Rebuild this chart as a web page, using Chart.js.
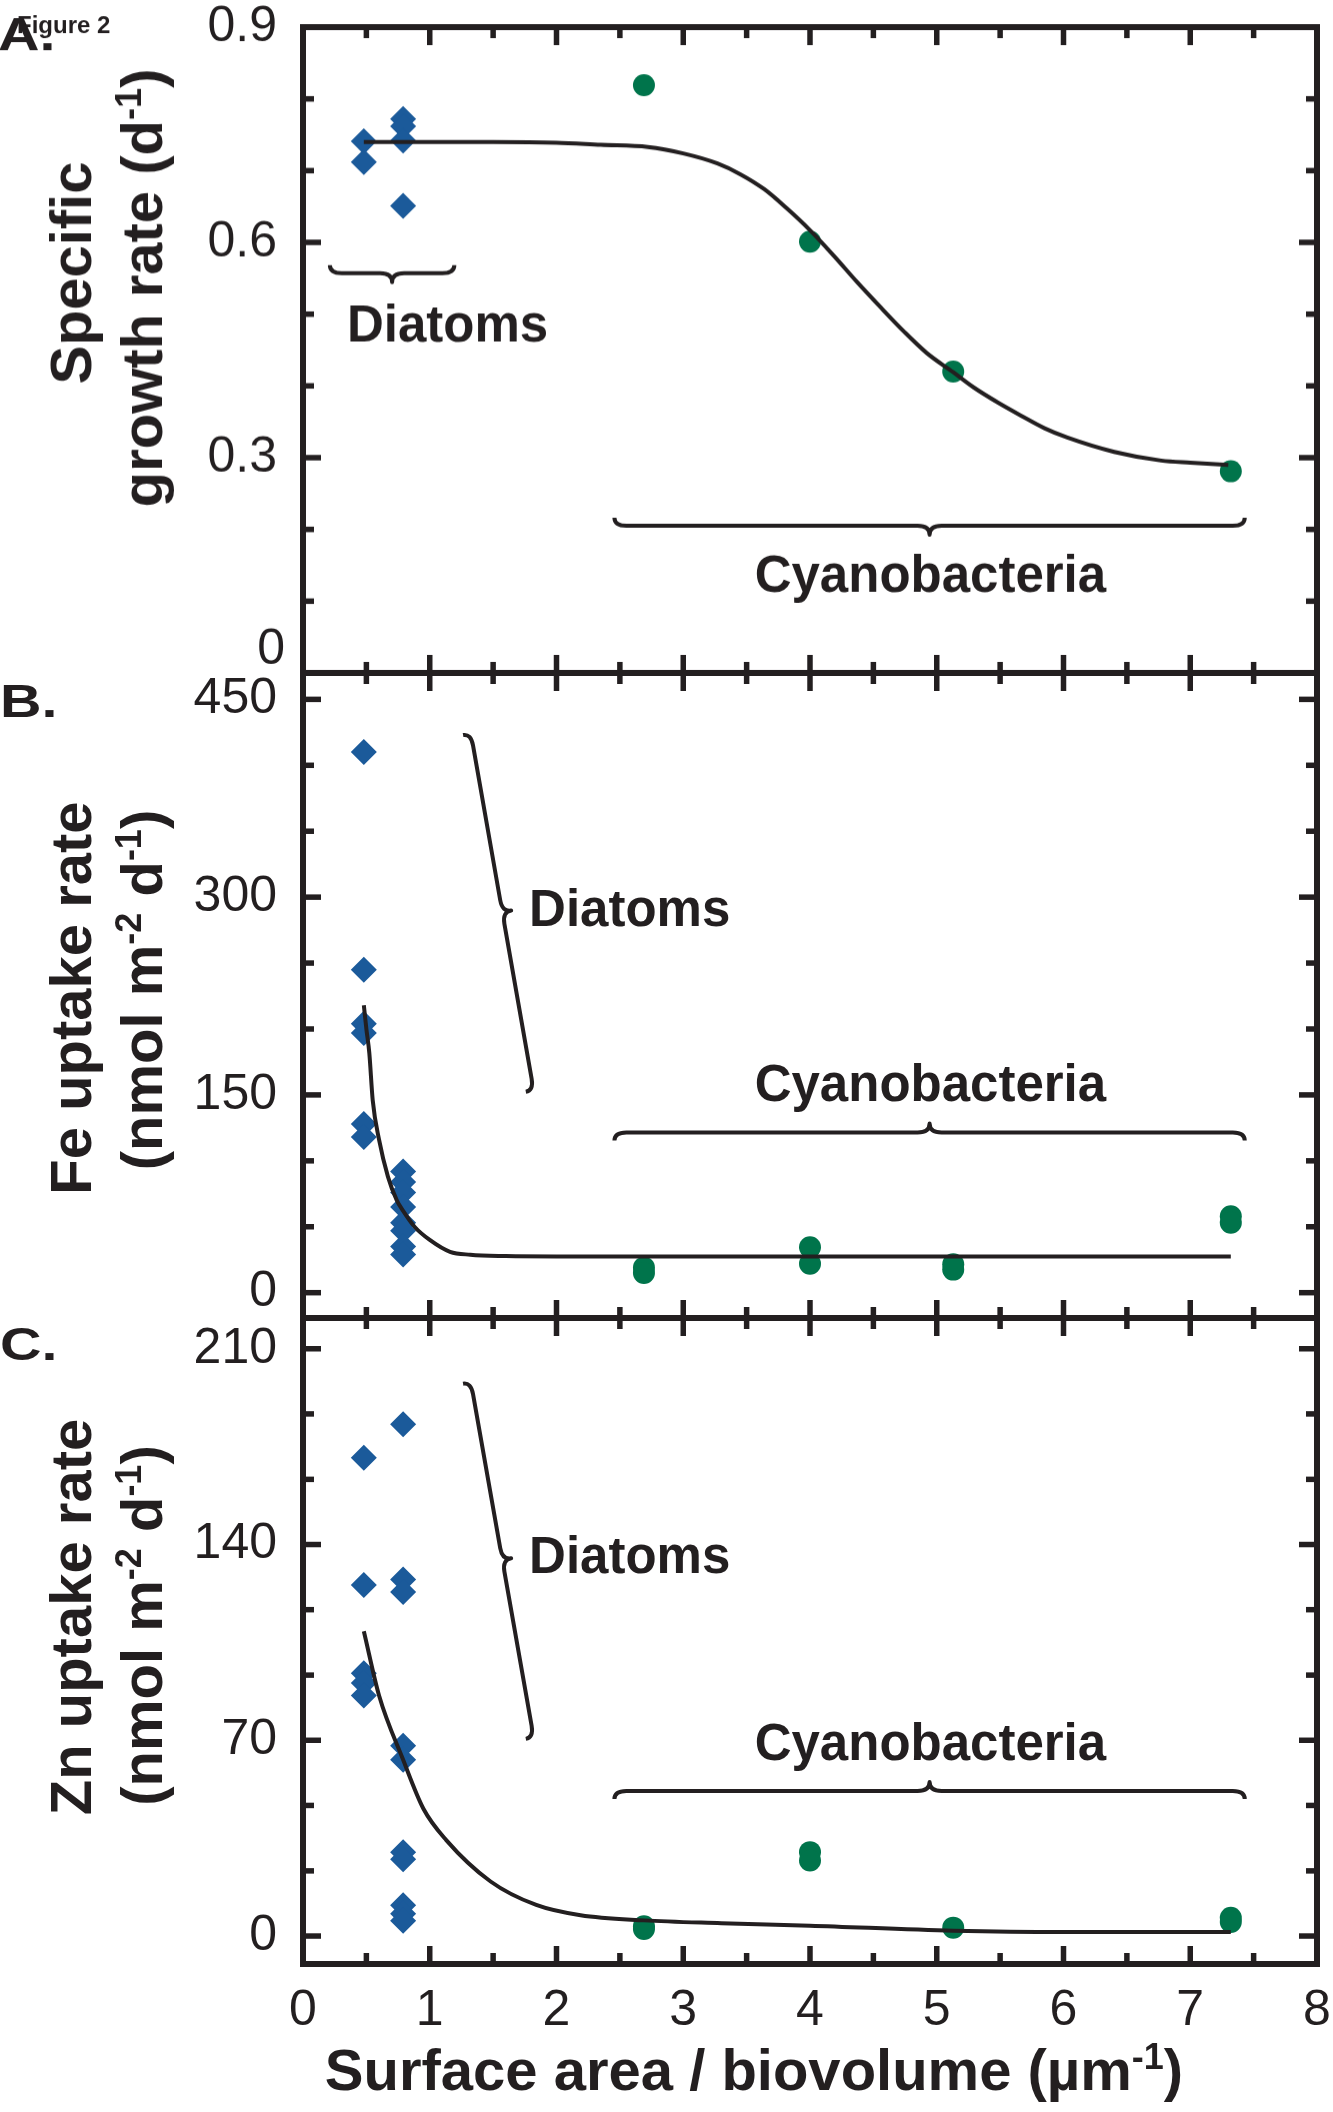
<!DOCTYPE html>
<html>
<head>
<meta charset="utf-8">
<script src="https://cdn.jsdelivr.net/npm/chart.js@4.4.1/dist/chart.umd.min.js"></script>
<style>
html,body{margin:0;padding:0;background:#fff;}
#wrap{position:relative;width:1333px;height:2112px;overflow:hidden;background:#fff;}
canvas{position:absolute;left:0;}
</style>
</head>
<body>
<div id="wrap">
  <canvas id="chartGrowth"></canvas>
  <canvas id="chartFe"></canvas>
  <canvas id="chartZn"></canvas>
</div>
<script>
// shared x axis (surface area / biovolume, um-1)
const xTicks=[0,1,2,3,4,5,6,7,8];
const xMinor=[0.5,1.5,2.5,3.5,4.5,5.5,6.5,7.5];

// A. specific growth rate (d-1)
const growthTicks=[0,0.3,0.6,0.9];
const growthMinor=[0.1,0.2,0.4,0.5,0.7,0.8];
const growthDiatomX=[0.48,0.48,0.79,0.79,0.79,0.79];
const growthDiatomY=[0.741,0.712,0.772,0.762,0.742,0.651];
const growthCyanoX=[2.69,4.0,5.13,7.32];
const growthCyanoY=[0.819,0.601,0.420,0.281];
const growthFitX=[0.48,1.0,1.5,2.0,2.35,2.72,3.0,3.27,3.45,3.64,3.82,4.0,4.19,4.37,4.56,4.74,4.92,5.13,5.29,5.48,5.66,5.85,6.03,6.4,6.77,7.0,7.3];
const growthFitY=[0.740,0.740,0.740,0.739,0.736,0.733,0.724,0.710,0.695,0.674,0.647,0.617,0.581,0.545,0.509,0.476,0.446,0.419,0.398,0.377,0.359,0.341,0.328,0.308,0.296,0.293,0.290];

// B. Fe uptake rate (nmol m-2 d-1)
const feTicks=[0,150,300,450];
const feMinor=[50,100,200,250,350,400];
const feDiatomX=[0.48,0.48,0.48,0.48,0.48,0.48,0.79,0.79,0.79,0.79,0.79,0.79,0.79,0.79];
const feDiatomY=[410,245,204,197,128,118,92,84,76,65,53,47,35,29];
const feCyanoX=[2.69,2.69,4.0,4.0,5.13,5.13,7.32,7.32];
const feCyanoY=[19,15,34.5,22,21.5,17.5,58,53];
const feFitX=[0.48,0.50,0.523,0.55,0.60,0.67,0.74,0.79,0.88,1.0,1.16,1.32,1.6,2.0,3.0,4.0,5.0,6.0,7.32];
const feFitY=[218,200,182,146,116,88,70,62,50,40,31,28.8,27.8,27.5,27.5,27.5,27.5,27.5,27.5];

// C. Zn uptake rate (nmol m-2 d-1)
const znTicks=[0,70,140,210];
const znMinor=[23.3,46.7,93.3,116.7,163.3,186.7];
const znDiatomX=[0.48,0.48,0.48,0.48,0.48,0.79,0.79,0.79,0.79,0.79,0.79,0.79,0.79,0.79,0.79];
const znDiatomY=[171,125.5,94,90.5,86,183,127.5,123,68,63,30,27.5,11,8,5.5];
const znCyanoX=[2.69,2.69,4.0,4.0,5.13,7.32,7.32];
const znCyanoY=[3.5,2.5,30,27,3,6.5,5];
const znFitX=[0.48,0.6,0.79,0.95,1.13,1.48,1.84,2.19,2.69,3.3,4.0,5.13,6.0,7.32];
const znFitY=[109,86,63,45.5,34.3,19.5,11.1,7.4,5.6,4.6,3.7,1.9,1.4,1.4];

const INK='#231f20', BLUE='#1b5a9a', GREEN='#00744b';
const FONT="'Liberation Sans', Arial, Helvetica, sans-serif";
const W=1333, LEFT=303, RIGHT=1317, PAD=80, XAXIS_H=90;

const pts=(xs,ys)=>xs.map((x,i)=>({x,y:ys[i]}));

function richWidth(ctx,parts,size){
  let w=0;
  parts.forEach(p=>{ctx.font=`bold ${p.sup?Math.round(size*0.62):size}px ${FONT}`;w+=ctx.measureText(p.t).width;});
  return w;
}
function drawRich(ctx,parts,size,x,y){
  parts.forEach(p=>{
    ctx.font=`bold ${p.sup?Math.round(size*0.62):size}px ${FONT}`;
    ctx.fillText(p.t,x,p.sup?y-size*0.36:y);
    x+=ctx.measureText(p.t).width;
  });
}

function drawBrace(ctx,a,b,side,e,t,r){
  const dx=b.x-a.x, dy=b.y-a.y, L=Math.hypot(dx,dy);
  const ux=dx/L, uy=dy/L, nx=side*uy, ny=-side*ux;
  const mx=(a.x+b.x)/2, my=(a.y+b.y)/2;
  const P=(bx,by,s,n)=>[bx+ux*s+nx*n, by+uy*s+ny*n];
  ctx.beginPath();
  ctx.moveTo(...P(a.x,a.y,0,-e));
  ctx.quadraticCurveTo(a.x,a.y,...P(a.x,a.y,r,0));
  ctx.lineTo(...P(mx,my,-r,0));
  ctx.quadraticCurveTo(mx,my,...P(mx,my,0,t));
  ctx.quadraticCurveTo(mx,my,...P(mx,my,r,0));
  ctx.lineTo(...P(b.x,b.y,-r,0));
  ctx.quadraticCurveTo(b.x,b.y,...P(b.x,b.y,0,-e));
  ctx.stroke();
}

// keep the plot box where the layout puts it: no label overflow padding
function noOverflow(s){s.paddingLeft=0;s.paddingRight=0;s.paddingTop=0;s.paddingBottom=0;}

function makePanel(id,cfg){
  const top=cfg.top-PAD;
  const h=cfg.last?2112-top:(cfg.bottom-cfg.top)+2*PAD;
  const cv=document.getElementById(id);
  cv.width=W;cv.height=h;
  cv.style.top=top+'px';cv.style.width=W+'px';cv.style.height=h+'px';
  const padBottom=cfg.last?h-PAD-(cfg.bottom-cfg.top)-XAXIS_H:PAD;

  const deco={
    id:'deco_'+id,
    afterDraw(chart){
      const {ctx,chartArea:a,scales:{x,y}}=chart;
      ctx.save();
      ctx.strokeStyle=INK;ctx.fillStyle=INK;ctx.lineCap='butt';
      const seg=(x1,y1,x2,y2)=>{ctx.beginPath();ctx.moveTo(x1,y1);ctx.lineTo(x2,y2);ctx.stroke();};
      ctx.lineWidth=5.5;
      xTicks.forEach(v=>{const p=x.getPixelForValue(v);seg(p,a.top,p,a.top+18);seg(p,a.bottom,p,a.bottom-18);});
      xMinor.forEach(v=>{const p=x.getPixelForValue(v);seg(p,a.top,p,a.top+11);seg(p,a.bottom,p,a.bottom-11);});
      cfg.yTicks.forEach(v=>{const p=y.getPixelForValue(v);seg(a.left,p,a.left+18,p);seg(a.right,p,a.right-18,p);});
      cfg.yMinor.forEach(v=>{const p=y.getPixelForValue(v);seg(a.left,p,a.left+11,p);seg(a.right,p,a.right-11,p);});
      ctx.lineWidth=6;
      ctx.strokeRect(a.left,a.top,a.right-a.left,a.bottom-a.top);

      // braces
      ctx.lineWidth=4;ctx.lineJoin='round';
      cfg.braces.forEach(b=>{
        drawBrace(ctx,{x:x.getPixelForValue(b.x1),y:y.getPixelForValue(b.y1)},
                      {x:x.getPixelForValue(b.x2),y:y.getPixelForValue(b.y2)},b.side,8,9,12);
      });
      // group labels
      ctx.font=`bold 51px ${FONT}`;ctx.textBaseline='middle';
      cfg.notes.forEach(n=>{
        ctx.textAlign=n.align;
        ctx.fillText(n.text,x.getPixelForValue(n.x),y.getPixelForValue(n.y));
      });

      // page-coordinate texts
      ctx.translate(0,-top);
      ctx.textAlign='left';ctx.textBaseline='alphabetic';
      cfg.titles.forEach(l=>{
        const w=richWidth(ctx,l.parts,58);
        ctx.save();ctx.translate(l.x,l.cy);ctx.rotate(-Math.PI/2);
        drawRich(ctx,l.parts,58,-w/2,0);
        ctx.restore();
      });
      if(cfg.zeroLabel){
        ctx.font=`50px ${FONT}`;ctx.textAlign='right';ctx.textBaseline='middle';
        ctx.fillText('0',LEFT-18,cfg.zeroLabel);
        ctx.textAlign='left';ctx.textBaseline='alphabetic';
      }
      ctx.save();
      ctx.translate(cfg.panel.x,cfg.panel.y);ctx.scale(1.25,1);
      ctx.font=`bold 46px ${FONT}`;ctx.fillText(cfg.panel.text,0,0);
      ctx.restore();
      if(cfg.figLabel){ctx.font=`bold 24px ${FONT}`;ctx.fillText(cfg.figLabel,17,33);}
      if(cfg.xTitle){
        const w=richWidth(ctx,cfg.xTitle,58);
        drawRich(ctx,cfg.xTitle,58,754-w/2,2090);
      }
      ctx.restore();
    }
  };

  return new Chart(cv.getContext('2d'),{
    type:'scatter',
    data:{datasets:[
      {type:'line',data:pts(cfg.fitX,cfg.fitY),borderColor:INK,borderWidth:4,pointRadius:0,
       cubicInterpolationMode:'monotone',fill:false,order:0},
      {data:pts(cfg.diatomX,cfg.diatomY),pointStyle:'rectRot',pointRadius:13,
       backgroundColor:BLUE,borderWidth:0,order:1},
      {data:pts(cfg.cyanoX,cfg.cyanoY),pointStyle:'circle',pointRadius:11,
       backgroundColor:GREEN,borderWidth:0,order:1}
    ]},
    options:{
      responsive:false,animation:false,events:[],devicePixelRatio:1,
      layout:{padding:{top:PAD,left:0,right:W-RIGHT,bottom:padBottom}},
      plugins:{legend:{display:false},tooltip:{enabled:false}},
      scales:{
        x:{type:'linear',min:0,max:8,display:!!cfg.last,
           grid:{display:false},border:{display:false},
           afterBuildTicks:s=>{s.ticks=xTicks.map(v=>({value:v}));},
           afterFit:s=>{s.height=cfg.last?XAXIS_H:0;noOverflow(s);},
           ticks:{padding:9,color:INK,maxRotation:0,autoSkip:false,font:{family:FONT,size:50}}},
        y:{type:'linear',min:cfg.min,max:cfg.max,position:'left',
           grid:{display:false},border:{display:false},
           afterBuildTicks:s=>{s.ticks=cfg.yTicks.filter(v=>!(cfg.zeroLabel&&v===0)).map(v=>({value:v}));},
           afterFit:s=>{s.width=LEFT;noOverflow(s);},
           ticks:{padding:18,color:INK,autoSkip:false,font:{family:FONT,size:50},callback:v=>String(v)}}
      }
    },
    plugins:[deco]
  });
}

makePanel('chartGrowth',{
  top:27,bottom:672.5,min:0,max:0.9,
  yTicks:growthTicks,yMinor:growthMinor,zeroLabel:649,
  diatomX:growthDiatomX,diatomY:growthDiatomY,cyanoX:growthCyanoX,cyanoY:growthCyanoY,
  fitX:growthFitX,fitY:growthFitY,
  braces:[{x1:0.212,y1:0.557,x2:1.194,y2:0.557,side:-1},{x1:2.457,y1:0.205,x2:7.43,y2:0.205,side:-1}],
  notes:[{text:'Diatoms',x:1.14,y:0.482,align:'center'},{text:'Cyanobacteria',x:4.95,y:0.133,align:'center'}],
  titles:[{parts:[{t:'Specific'}],x:91,cy:272.5},
          {parts:[{t:'growth rate (d'},{t:'-1',sup:1},{t:')'}],x:162,cy:287.5}],
  panel:{text:'A.',x:-2,y:50},figLabel:'Figure 2'
});

makePanel('chartFe',{
  top:672.5,bottom:1318,min:-19.2,max:470,
  yTicks:feTicks,yMinor:feMinor,
  diatomX:feDiatomX,diatomY:feDiatomY,cyanoX:feCyanoX,cyanoY:feCyanoY,
  fitX:feFitX,fitY:feFitY,
  braces:[{x1:1.325,y1:424,x2:1.82,y2:153.4,side:1},{x1:2.457,y1:121.4,x2:7.43,y2:121.4,side:1}],
  notes:[{text:'Diatoms',x:1.784,y:288.5,align:'left'},{text:'Cyanobacteria',x:4.95,y:156.3,align:'center'}],
  titles:[{parts:[{t:'Fe uptake rate'}],x:91,cy:997.5},
          {parts:[{t:'(nmol m'},{t:'-2',sup:1},{t:' d'},{t:'-1',sup:1},{t:')'}],x:162,cy:989.5}],
  panel:{text:'B.',x:0,y:716}
});

makePanel('chartZn',{
  top:1318,bottom:1964,min:-10,max:221,last:true,
  yTicks:znTicks,yMinor:znMinor,
  diatomX:znDiatomX,diatomY:znDiatomY,cyanoX:znCyanoX,cyanoY:znCyanoY,
  fitX:znFitX,fitY:znFitY,
  braces:[{x1:1.325,y1:198,x2:1.82,y2:71,side:1},{x1:2.457,y1:51.9,x2:7.43,y2:51.9,side:1}],
  notes:[{text:'Diatoms',x:1.784,y:134.8,align:'left'},{text:'Cyanobacteria',x:4.95,y:68,align:'center'}],
  titles:[{parts:[{t:'Zn uptake rate'}],x:91,cy:1617},
          {parts:[{t:'(nmol m'},{t:'-2',sup:1},{t:' d'},{t:'-1',sup:1},{t:')'}],x:162,cy:1625.5}],
  panel:{text:'C.',x:0,y:1360},
  xTitle:[{t:'Surface area / biovolume (\u00b5m'},{t:'-1',sup:1},{t:')'}]
});
</script>
</body>
</html>
